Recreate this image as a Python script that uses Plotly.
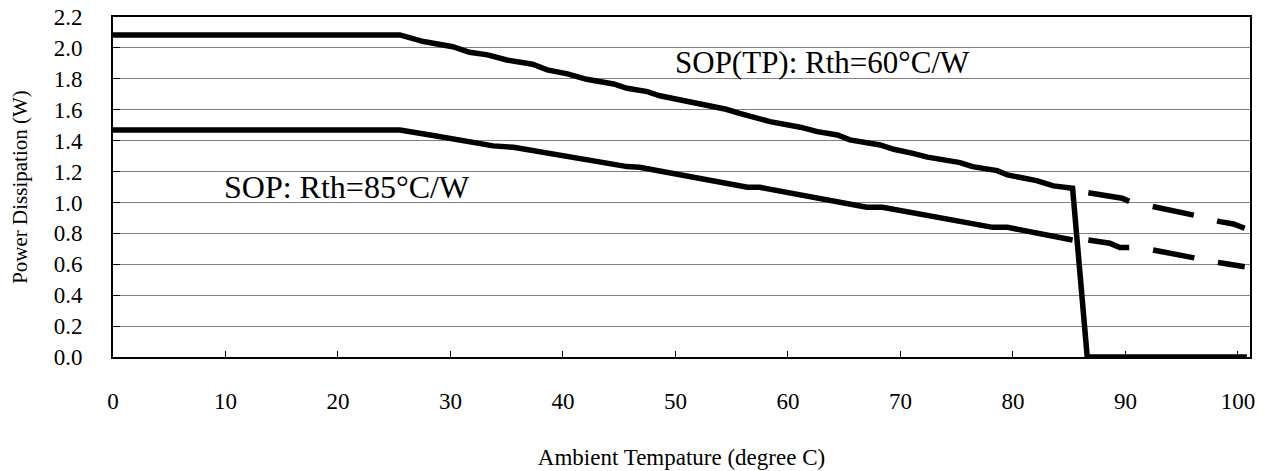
import plotly.graph_objects as go

# SOP(TP) solid curve (incl. drop to zero and zero segment)
tp_temp = [0, 25.5, 27.6, 30.2, 31.7, 33.3, 35.0, 37.3, 38.6, 40.4, 42.1, 44.5, 45.7, 47.5, 48.6,
           50.4, 51.6, 54.5, 55.7, 57.5, 58.4, 61.1, 62.6, 64.4, 65.5, 68.2, 69.4, 71.1, 72.4,
           75.3, 76.4, 78.6, 79.5, 82.1, 83.6, 85.3, 86.6, 100.8]
tp_pow = [2.084, 2.084, 2.041, 2.008, 1.972, 1.955, 1.922, 1.894, 1.858, 1.832, 1.797, 1.767, 1.739,
          1.717, 1.690, 1.665, 1.642, 1.603, 1.577, 1.545, 1.523, 1.487, 1.458, 1.437, 1.405, 1.372,
          1.344, 1.318, 1.293, 1.258, 1.232, 1.206, 1.178, 1.141, 1.107, 1.092, 0.0, 0.0]
# SOP solid curve
sop_temp = [0, 25.5, 28.2, 31.5, 33.8, 35.6, 40.4, 45.7, 46.8, 50.4, 56.4, 57.5, 67.0, 68.4,
            78.2, 79.5, 85.3]
sop_pow = [1.469, 1.469, 1.437, 1.400, 1.366, 1.357, 1.297, 1.232, 1.228, 1.180, 1.098, 1.098,
           0.969, 0.969, 0.839, 0.839, 0.757]
# Dashed continuations
tp_dash_temp = [86.7, 88.6, 89.7, 90.4, 92.6, 94.0, 94.8, 96.4, 98.4, 99.6, 100.6]
tp_dash_pow = [1.063, 1.038, 1.027, 1.005, 0.973, 0.945, 0.940, 0.913, 0.876, 0.861, 0.833]
sop_dash_temp = [86.7, 88.6, 89.5, 90.4, 92.4, 94.8, 96.4, 98.4, 100.6]
sop_dash_pow = [0.757, 0.736, 0.708, 0.708, 0.693, 0.660, 0.632, 0.610, 0.584]

y_ticks = [0.0, 0.2, 0.4, 0.6, 0.8, 1.0, 1.2, 1.4, 1.6, 1.8, 2.0, 2.2]
x_ticks = [0, 10, 20, 30, 40, 50, 60, 70, 80, 90, 100]

FONT = "Liberation Serif"

fig = go.Figure()
fig.add_trace(go.Scatter(x=tp_temp, y=tp_pow, mode="lines",
                         line=dict(color="black", width=5.5), showlegend=False))
fig.add_trace(go.Scatter(x=sop_temp, y=sop_pow, mode="lines",
                         line=dict(color="black", width=5.5), showlegend=False))
fig.add_trace(go.Scatter(x=tp_dash_temp, y=tp_dash_pow, mode="lines",
                         line=dict(color="black", width=5.5, dash="42px,24px"), showlegend=False))
fig.add_trace(go.Scatter(x=sop_dash_temp, y=sop_dash_pow, mode="lines",
                         line=dict(color="black", width=5.5, dash="42px,24px"), showlegend=False))

fig.add_annotation(x=0.624, xref="paper", y=1.905, text="SOP(TP): Rth=60°C/W",
                   showarrow=False, xanchor="center", font=dict(family=FONT, size=31, color="black"))
fig.add_annotation(x=0.206, xref="paper", y=1.10, text="SOP: Rth=85°C/W",
                   showarrow=False, xanchor="center", font=dict(family=FONT, size=32, color="black"))

fig.update_layout(
    width=1272, height=471,
    margin=dict(l=113, r=22, t=17, b=114, autoexpand=False),
    plot_bgcolor="white", paper_bgcolor="white",
    font=dict(family=FONT, size=23, color="black"),
    xaxis=dict(range=[0, 101.07], tickvals=x_ticks, ticktext=[str(v) for v in x_ticks],
               showgrid=False, zeroline=False, showline=True, mirror=True, automargin=False,
               linecolor="black", linewidth=2, ticks="inside", ticklen=6, tickcolor="black",
               ticklabelstandoff=22, tickfont=dict(family=FONT, size=23),
               title=dict(text="Ambient Tempature (degree C)", standoff=36,
                          font=dict(family=FONT, size=23))),
    yaxis=dict(range=[0, 2.2], tickvals=y_ticks, ticktext=[f"{v:.1f}" for v in y_ticks],
               showgrid=True, gridcolor="#808080", gridwidth=1, zeroline=False, automargin=False,
               showline=True, mirror=True, linecolor="black", linewidth=2,
               ticks="inside", ticklen=7, tickcolor="black", ticklabelstandoff=24,
               tickfont=dict(family=FONT, size=23),
               title=dict(text="Power Dissipation (W)", standoff=20,
                          font=dict(family=FONT, size=21))),
)

fig.write_html("out.html")
